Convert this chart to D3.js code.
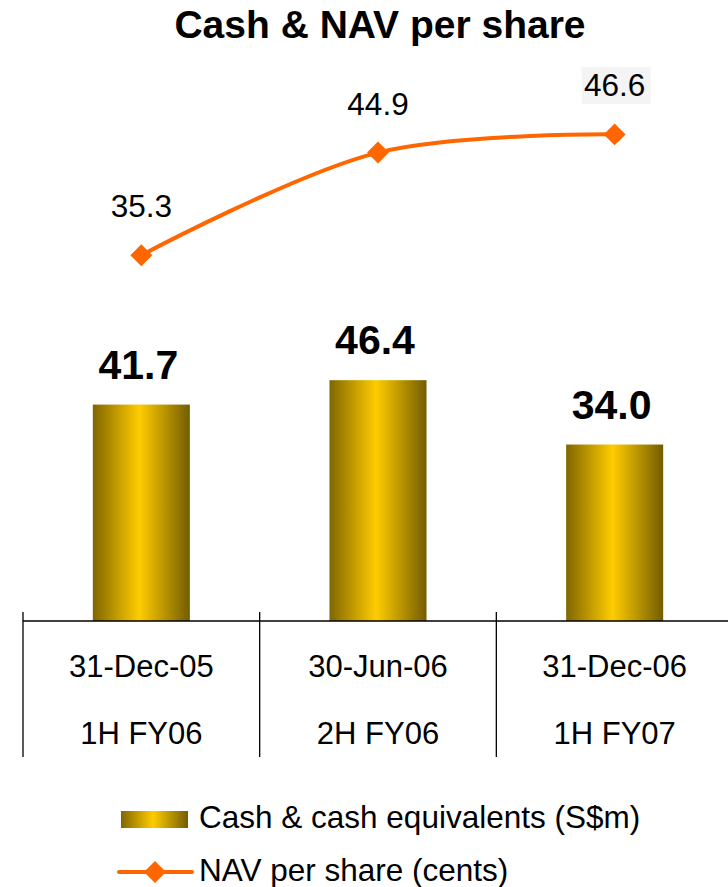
<!DOCTYPE html>
<html>
<head>
<meta charset="utf-8">
<script src="https://cdn.jsdelivr.net/npm/d3@7"></script>
<style>
  html, body { margin: 0; padding: 0; background: #fff; }
  svg { display: block; font-family: "Liberation Sans", Arial, sans-serif; }
</style>
</head>
<body>
<svg id="chart" width="728" height="887"></svg>
<script>
// ---- data ----
var periods = ['31-Dec-05', '30-Jun-06', '31-Dec-06'];
var halves = ['1H FY06', '2H FY06', '1H FY07'];
var cash = [41.7, 46.4, 34.0];          // S$m
var nav = [35.3, 44.9, 46.6];           // cents
var legendLabels = ['Cash & cash equivalents (S$m)', 'NAV per share (cents)'];

var W = 728, H = 887;
var svg = d3.select('#chart');
var ORANGE = '#ff6600';

// gradient for bars
var defs = svg.append('defs');
var grad = defs.append('linearGradient').attr('id', 'gold').attr('x1', '0').attr('x2', '1').attr('y1', '0').attr('y2', '0');
grad.append('stop').attr('offset', '0').attr('stop-color', '#806600');
grad.append('stop').attr('offset', '0.48').attr('stop-color', '#ffcc00');
grad.append('stop').attr('offset', '1').attr('stop-color', '#735c00');

// scales
var base = 621;
var x = d3.scaleBand().domain(periods).range([23, 733]).padding(0);
var yBar = d3.scaleLinear().domain([0, 100]).range([base, base - 519]);
var yNav = d3.scaleLinear().domain([0, 50]).range([633, 98]);
var barW = x.bandwidth() * 0.41;
function cx(d) { return x(d) + x.bandwidth() / 2; }

// title
svg.append('text').attr('x', 380).attr('y', 38).attr('text-anchor', 'middle')
  .attr('font-size', 39).attr('font-weight', 'bold').text('Cash & NAV per share');

// bars
svg.append('g').selectAll('rect').data(cash).enter().append('rect')
  .attr('x', function (d, i) { return cx(periods[i]) - barW / 2; })
  .attr('y', function (d) { return yBar(d); })
  .attr('width', barW)
  .attr('height', function (d) { return base - yBar(d); })
  .attr('fill', 'url(#gold)');

svg.append('g').selectAll('text').data(cash).enter().append('text')
  .attr('x', function (d, i) { return cx(periods[i]) - 3; })
  .attr('y', function (d) { return yBar(d) - 26; })
  .attr('text-anchor', 'middle').attr('font-size', 41).attr('font-weight', 'bold')
  .text(function (d) { return d.toFixed(1); });

// axis: baseline + separators
var ax = svg.append('g').attr('stroke', '#000').attr('stroke-width', 1.3);
ax.append('line').attr('x1', 23).attr('x2', W).attr('y1', base).attr('y2', base);
var seps = [23].concat(periods.map(function (p) { return x(p) + x.bandwidth(); }));
ax.selectAll('line.sep').data(seps).enter().append('line').attr('class', 'sep')
  .attr('x1', function (d) { return d; }).attr('x2', function (d) { return d; })
  .attr('y1', 612).attr('y2', 757);

var lbl = svg.append('g').attr('font-size', 31).attr('text-anchor', 'middle');
lbl.selectAll('text.p').data(periods).enter().append('text').attr('class', 'p')
  .attr('x', function (d) { return cx(d); }).attr('y', 677).text(function (d) { return d; });
lbl.selectAll('text.h').data(halves).enter().append('text').attr('class', 'h')
  .attr('x', function (d, i) { return cx(periods[i]); }).attr('y', 744).text(function (d) { return d; });

// NAV line
var pts = nav.map(function (v, i) { return [cx(periods[i]), yNav(v)]; });
svg.append('path').attr('d', d3.line().curve(d3.curveCatmullRom.alpha(0.5))(pts))
  .attr('fill', 'none').attr('stroke', ORANGE).attr('stroke-width', 4);

var diamond = d3.symbol().type(d3.symbolSquare).size(240);
svg.append('g').selectAll('path').data(pts).enter().append('path')
  .attr('d', diamond)
  .attr('transform', function (d) { return 'translate(' + d[0] + ',' + d[1] + ') rotate(45)'; })
  .attr('fill', ORANGE);

// light box behind last label
svg.append('rect').attr('x', pts[2][0] - 33).attr('y', 67).attr('width', 69).attr('height', 37).attr('fill', '#f4f4f4');

svg.append('g').selectAll('text').data(nav).enter().append('text')
  .attr('x', function (d, i) { return pts[i][0]; })
  .attr('y', function (d, i) { return pts[i][1] - 38; })
  .attr('text-anchor', 'middle').attr('font-size', 31.5)
  .text(function (d) { return d.toFixed(1); });

// legend
var lg = svg.append('g').attr('font-size', 31.5);
lg.append('rect').attr('x', 121).attr('y', 811).attr('width', 67).attr('height', 17).attr('fill', 'url(#gold)');
lg.append('text').attr('x', 199).attr('y', 828).text(legendLabels[0]);
lg.append('line').attr('x1', 119).attr('x2', 192).attr('y1', 872).attr('y2', 872)
  .attr('stroke', ORANGE).attr('stroke-width', 4).attr('stroke-linecap', 'round');
lg.append('path').attr('d', diamond).attr('transform', 'translate(155,872) rotate(45)').attr('fill', ORANGE);
lg.append('text').attr('x', 199).attr('y', 881).text(legendLabels[1]);
</script>
</body>
</html>
